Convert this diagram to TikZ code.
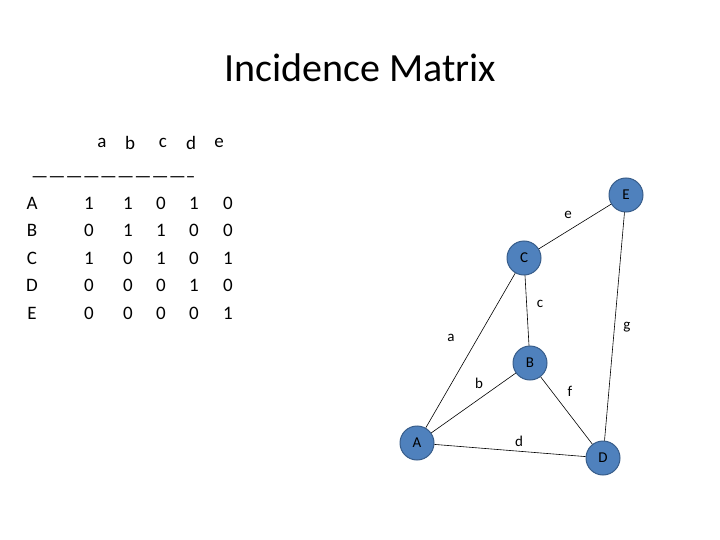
\documentclass[tikz,border=0pt]{standalone}
\usepackage{fontspec}
\setmainfont{Carlito}
\begin{document}
\begin{tikzpicture}[x=1pt,y=-1pt,
  vert/.style={circle,fill={rgb,255:red,79;green,129;blue,189},draw={rgb,255:red,56;green,93;blue,138},line width=1pt,minimum size=34pt,inner sep=0pt,font=\fontsize{15}{15}\selectfont},
  lab/.style={font=\fontsize{15}{15}\selectfont},
  mt/.style={font=\fontsize{19}{19}\selectfont},
  edge/.style={black,line width=0.6pt}]
\useasboundingbox (0,0) rectangle (720,540);
\node[font=\fontsize{40}{40}\selectfont] (title) at (360,68) {Incidence Matrix};
\foreach \t/\x in {a/102,b/130,c/163,d/191,e/219} \node[mt] (h\t) at (\x,143) {\t};
\node[mt,anchor=west,inner sep=0pt] (dash) at (31,180) {-----------------------------};
\foreach \r/\y/\va/\vb/\vc/\vd/\ve in {A/203/1/1/0/1/0,B/230/0/1/1/0/0,C/258/1/0/1/0/1,D/285/0/0/0/1/0,E/313/0/0/0/0/1}{
  \node[mt] (r\r) at (32,\y) {\r};
  \node[mt] (r\r1) at (89,\y) {\va};
  \node[mt] (r\r2) at (128,\y) {\vb};
  \node[mt] (r\r3) at (161,\y) {\vc};
  \node[mt] (r\r4) at (194,\y) {\vd};
  \node[mt] (r\r5) at (228,\y) {\ve};
}
\node[vert] (E) at (626,195) {E};
\node[vert] (C) at (524,258) {C};
\node[vert] (B) at (530,363) {B};
\node[vert] (A) at (417,443) {A};
\node[vert] (D) at (603,458) {D};
\draw[edge] (A) -- (C);
\draw[edge] (A) -- (B);
\draw[edge] (A) -- (D);
\draw[edge] (C) -- (B);
\draw[edge] (C) -- (E);
\draw[edge] (B) -- (D);
\draw[edge] (E) -- (D);
\node[lab] (le) at (568,215) {e};
\node[lab] (lc) at (540,304) {c};
\node[lab] (la) at (451,338) {a};
\node[lab] (lg) at (627,327) {g};
\node[lab] (lb) at (479,383) {b};
\node[lab] (lf) at (570,391) {f};
\node[lab] (ld) at (519,441) {d};
\end{tikzpicture}
\end{document}
